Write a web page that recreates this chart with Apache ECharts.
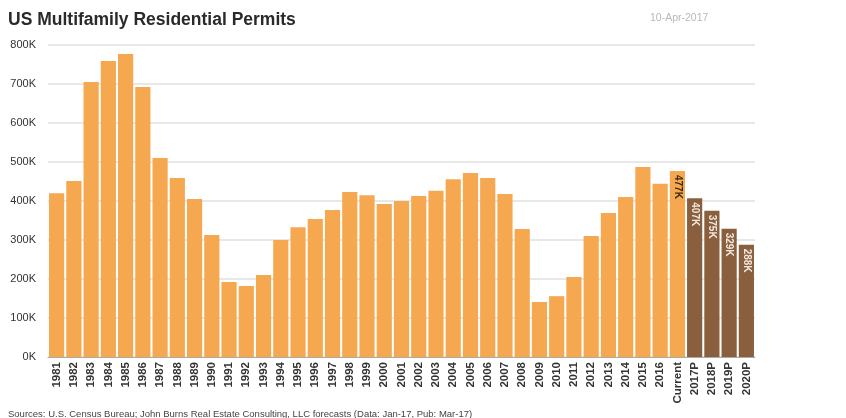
<!DOCTYPE html>
<html><head><meta charset="utf-8">
<script src="https://cdn.jsdelivr.net/npm/echarts@6/dist/echarts.min.js"></script>
<style>html,body{margin:0;padding:0;background:#fff}#c{width:846px;height:418px}</style>
</head><body><div id="c"></div>
<script>
const categories = ['1981','1982','1983','1984','1985','1986','1987','1988','1989','1990','1991','1992','1993','1994','1995','1996','1997','1998','1999','2000','2001','2002','2003','2004','2005','2006','2007','2008','2009','2010','2011','2012','2013','2014','2015','2016','Current','2017P','2018P','2019P','2020P'];
const actualValues = [420,451,705,759,777,692,510,459,405,313,192,182,210,300,333,354,377,423,415,392,400,413,426,456,472,459,418,328,141,156,205,310,369,410,487,444,477];
const forecastValues = [407,375,329,288];
const yTicks = [0,100,200,300,400,500,600,700,800];
const labeledCategories = ['Current','2017P','2018P','2019P','2020P'];

const ORANGE = '#F5A84F', BROWN = '#8A5F3E';
const data = categories.map((c, i) => {
  const isF = i >= actualValues.length;
  const v = isF ? forecastValues[i - actualValues.length] : actualValues[i];
  const show = labeledCategories.includes(c);
  return {
    value: v,
    itemStyle: { color: isF ? BROWN : ORANGE },
    label: {
      show: show,
      color: isF ? '#f3e9df' : '#3a2a10'
    }
  };
});

const chart = echarts.init(document.getElementById('c'), null, {renderer:'canvas'});
chart.setOption({
  animation: false,
  title: [
    { text: 'US Multifamily Residential Permits', left: 3, top: 6,
      textStyle: { fontFamily: 'Liberation Sans', fontSize: 17.5, fontWeight: 'bold', color: '#2a2a2a' } },
    { text: '10-Apr-2017', left: 645, top: 8,
      textStyle: { fontFamily: 'Liberation Sans', fontSize: 10.5, fontWeight: 'normal', color: '#b8b8b8' } },
    { text: 'Sources: U.S. Census Bureau; John Burns Real Estate Consulting, LLC forecasts (Data: Jan-17, Pub: Mar-17)', left: 3, top: 404,
      textStyle: { fontFamily: 'Liberation Sans', fontSize: 9.5, fontWeight: 'normal', color: '#444' } }
  ],
  grid: { left: 48, right: 91, top: 45, bottom: 61 },
  xAxis: {
    type: 'category', data: categories,
    axisLine: { lineStyle: { color: '#aaa' } },
    axisTick: { show: false },
    axisLabel: { rotate: 90, interval: 0, margin: 5, fontFamily: 'Liberation Sans', fontSize: 11.5, fontWeight: 'bold', color: '#333' }
  },
  yAxis: {
    type: 'value', min: 0, max: 800, interval: 100,
    axisLine: { show: false }, axisTick: { show: false },
    splitLine: { lineStyle: { color: '#e0e0e0', width: 1.5 } },
    axisLabel: { formatter: v => yTicks.includes(v) ? v + 'K' : '', margin: 12,
      fontFamily: 'Liberation Sans', fontSize: 11, color: '#333' }
  },
  series: [{
    type: 'bar', data: data, barCategoryGap: '12%',
    label: {
      position: 'insideTop', rotate: -90, align: 'left', verticalAlign: 'middle', distance: 4,
      formatter: p => p.value + 'K',
      fontFamily: 'Liberation Sans', fontSize: 10, fontWeight: 'bold'
    }
  }]
});
</script></body></html>
